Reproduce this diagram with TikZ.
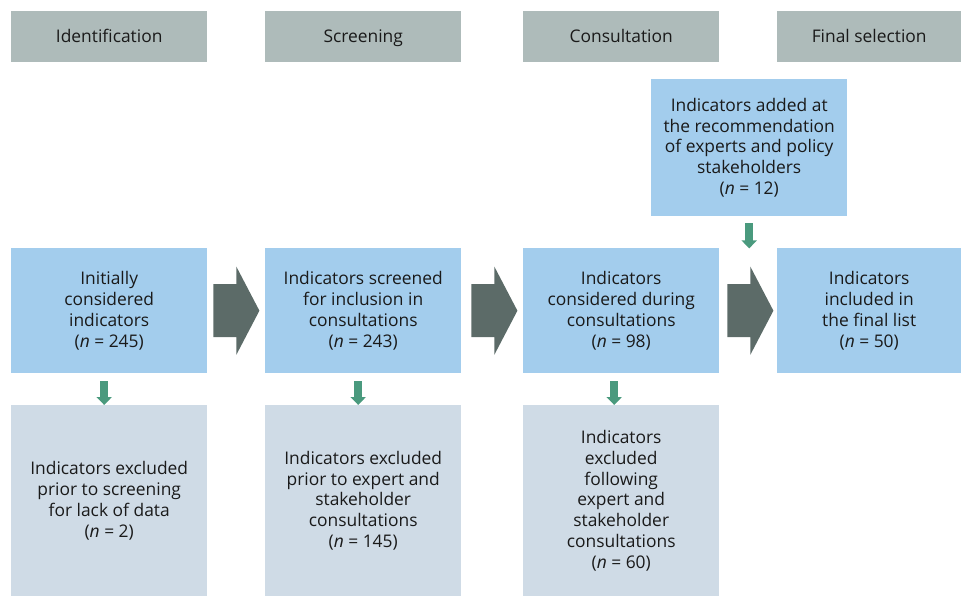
\documentclass[tikz,border=0pt]{standalone}
\usepackage{fontspec}
\setmainfont{Open Sans}
\definecolor{hdrgray}{HTML}{AEBBBA}
\definecolor{boxblue}{HTML}{A3CDED}
\definecolor{boxlight}{HTML}{CFDBE6}
\definecolor{darkarrow}{HTML}{5C6B68}
\definecolor{greenarrow}{HTML}{4A9A7E}
\definecolor{txt}{HTML}{1A1A1A}
\usetikzlibrary{arrows.meta}
\begin{document}
\begin{tikzpicture}[x=1pt,y=-1pt,
  base/.style={inner sep=0pt, anchor=north west, align=center, text=txt,
    font=\fontsize{17.4}{20.8}\selectfont},
  hdr/.style={base, fill=hdrgray, minimum height=51pt, text height=12pt, text depth=0pt},
  mainbox/.style={base, fill=boxblue, minimum height=125pt},
  exbox/.style={base, fill=boxlight, minimum width=196pt},
  garrow/.style={draw=greenarrow, line width=8pt,
    -{Triangle[width=15pt,length=8pt]}}]
\useasboundingbox (0,0) rectangle (961,596);
% headers
\node[hdr, minimum width=196pt] (h1) at (11,11) {Identification};
\node[hdr, minimum width=196pt] (h2) at (265,11) {Screening};
\node[hdr, minimum width=196pt] (h3) at (523,11) {Consultation};
\node[hdr, minimum width=184pt] (h4) at (777,11) {Final selection};
% top added box
\node[mainbox, minimum width=196pt, minimum height=137pt] (add) at (651,79)
  {Indicators added at\\the recommendation\\of experts and policy\\stakeholders\\(\textit{n} = 12)};
% main row
\node[mainbox, minimum width=196pt] (b1) at (11,248)
  {Initially\\considered\\indicators\\(\textit{n} = 245)};
\node[mainbox, minimum width=196pt] (b2) at (265,248)
  {Indicators screened\\for inclusion in\\consultations\\(\textit{n} = 243)};
\node[mainbox, minimum width=196pt] (b3) at (523,248)
  {Indicators\\considered during\\consultations\\(\textit{n} = 98)};
\node[mainbox, minimum width=184pt] (b4) at (777,248)
  {Indicators\\included in\\the final list\\(\textit{n} = 50)};
% excluded boxes
\node[exbox, minimum height=191pt] (e1) at (11,405)
  {Indicators excluded\\prior to screening\\for lack of data\\(\textit{n} = 2)};
\node[exbox, minimum height=191pt] (e2) at (265,405)
  {Indicators excluded\\prior to expert and\\stakeholder\\consultations\\(\textit{n} = 145)};
\node[exbox, minimum height=191pt] (e3) at (523,405)
  {Indicators\\excluded\\following\\expert and\\stakeholder\\consultations\\(\textit{n} = 60)};
% big arrows
\path (b1.east) ++(6,0) coordinate (a1);
\path (b2.east) ++(10,0) coordinate (a2);
\path (b3.east) ++(8,0) coordinate (a3);
\foreach \a in {a1,a2,a3}{
  \fill[darkarrow] (\a) ++(0,-26.5) -- ++(23,0) -- ++(0,-17.5) -- ++(23,44)
    -- ++(-23,44) -- ++(0,-17.5) -- ++(-23,0) -- cycle;
}
% green arrows
\draw[garrow, shorten <=8pt] ([xshift=-5pt]b1.south) -- ([xshift=-5pt]e1.north);
\draw[garrow, shorten <=8pt] ([xshift=-5pt]b2.south) -- ([xshift=-5pt]e2.north);
\draw[garrow, shorten <=8pt] ([xshift=-7pt]b3.south) -- ([xshift=-7pt]e3.north);
\path (add.south) ++(0,32) coordinate (addend);
\draw[garrow, shorten <=7pt] (add.south) -- (addend);
\end{tikzpicture}
\end{document}
